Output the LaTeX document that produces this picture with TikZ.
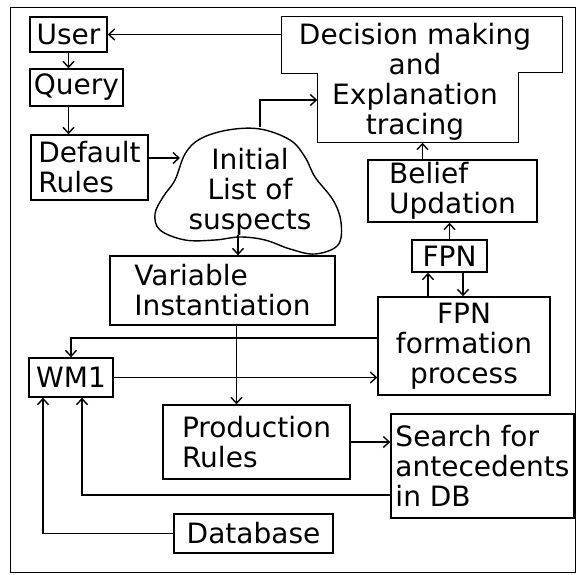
\documentclass[tikz,border=0pt]{standalone}
\usepackage{fontspec}
\setmainfont{DejaVu Sans}
\usetikzlibrary{arrows.meta}

\begin{document}
\begin{tikzpicture}[
	                  x = 1pt,
	                  y = -1pt,
	       line width = 1.4pt,
	                > = {Straight Barb[length=6pt,width=11pt]},
	every node/.style = {font=\fontsize{28}{30}\selectfont, inner sep=0pt},
	       box/.style = {draw, align=left},
	                    ]
	\useasboundingbox (0,0) rectangle (578,575);
	\draw[line width=0.7pt] (10,7) rectangle (575,572);

	% left column
	\node[box, minimum width=77, minimum height=35] (user) at (68.5,34.5) {User};
	\node[box, minimum width=93, minimum height=37] (query) at (76.5,87.5) {Query};
	\node[box, minimum width=117, minimum height=65] (defrules) at (89.5,167.5) {Default\\Rules};

	% decision box, drawn as one outline round two parts
	\node[minimum width=280, minimum height=56] (dectop) at (422,45) {};
	\node[minimum width=200, minimum height=69] (decbot) at (418,107.5) {};
	\draw (dectop.south west) |- (dectop.north east) |- (decbot.north east)
	      |- (decbot.south west) |- (dectop.south west) -- cycle;
	\node[align=center] (decision) at (415,82) {Decision making\\and\\Explanation\\tracing};

	% suspects blob
	\node[align=center] (cloud) at (250,192) {Initial\\List of\\suspects};
	\draw[shift={(cloud.center)}] plot[smooth cycle, tension=0.6] coordinates {
		(10,-63) (40,-52) (55,-35) (65,-15) (83,8) (91,30) (88,53) (65,62)
		(40,57) (15,48) (-10,45) (-35,48) (-65,48) (-90,38) (-95,22) (-87,5)
		(-75,-12) (-65,-38) (-50,-53) (-22,-62)};
	\coordinate (cloudin) at (180,158);
	\coordinate (cloudout) at (238,235);
	\coordinate (cloudtop) at (260,127);

	\node[box, minimum width=169, minimum height=62] (belief) at (452.5,191) {Belief\\Updation};
	\node[box, minimum width=75, minimum height=32] (fpn) at (449.5,256) {FPN};
	\node[box, align=center, minimum width=172, minimum height=98] (formation) at (464,346) {FPN\\formation\\process};
	\node[box, minimum width=225, minimum height=69] (var) at (222.5,290.5) {Variable\\Instantiation};
	\node[box, minimum width=84, minimum height=39] (wm) at (71,377.5) {WM1};
	\node[box, minimum width=187, minimum height=74] (prod) at (256.5,442) {Production\\Rules};
	\node[box, minimum width=183, minimum height=104] (search) at (482.5,466) {Search for\\antecedents\\in DB};
	\node[box, minimum width=159, minimum height=39] (db) at (253.5,533.5) {Database};

	% connectors
	\draw[->] (user.east -| dectop.west) -- (user.east);
	\draw[->] (user.south) -- (user.south |- query.north);
	\draw[->] (user.south |- query.south) -- (user.south |- defrules.north);
	\draw[->] (defrules.east |- cloudin) -- (cloudin);
	\draw[->] (cloudtop) |- ([yshift=7.5pt]decbot.west);
	\draw[->] (cloudout) -- (cloudout |- var.north);
	\draw[->] ([xshift=-30pt]belief.north) -- ([xshift=-30pt]belief.north |- decbot.south);
	\draw[->] (fpn.north) -- (fpn.north |- belief.south);
	\draw[->] ([xshift=-21.5pt]fpn.south |- formation.north) -- ([xshift=-21.5pt]fpn.south);
	\draw[->] ([xshift=13.5pt]fpn.south) -- ([xshift=13.5pt]fpn.south |- formation.north);
	\draw[->] ([yshift=8pt]formation.west) -| (wm.north);
	\draw[->] (wm.east) -- (wm.east -| formation.west);
	\draw[->] ([xshift=14pt]var.south) -- ([xshift=14pt]var.south |- prod.north);
	\draw[->] (prod.east) -- (prod.east -| search.west);
	\draw[->] ([yshift=-29pt]search.west) -| ([xshift=11pt]wm.south);
	\draw[->] (db.west) -| ([xshift=-28pt]wm.south);
\end{tikzpicture}
\end{document}
